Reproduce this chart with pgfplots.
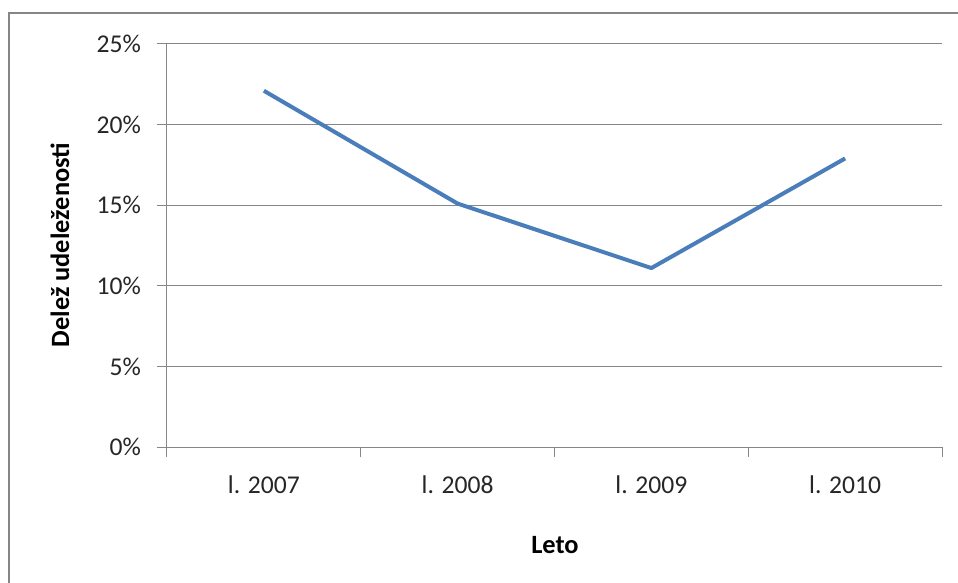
\documentclass[border=0pt]{standalone}
\usepackage{fontspec}
\setmainfont{Carlito}
\usepackage{pgfplots}
\pgfplotsset{compat=1.18}
\definecolor{linia}{HTML}{4A7EBB}
\definecolor{mreza}{HTML}{868686}
\begin{document}
\begin{tikzpicture}
% overall canvas, 0.5pt per unit, origin at the bottom-left corner of the plot area
\useasboundingbox (-83.5pt,-68pt) rectangle (395.5pt,223.5pt);
% chart frame (top and left edges)
\draw[mreza, line width=1pt] (-79pt,-70pt) -- (-79pt,217pt) -- (400pt,217pt);
\begin{axis}[
  at={(0pt,0pt)}, anchor=origin,
  scale only axis,
  width=387.5pt, height=201.5pt,
  xmin=0, xmax=4, ymin=0, ymax=25,
  axis x line*=bottom, axis y line*=left,
  axis line style={mreza, line width=0.5pt},
  xtick={0,1,2,3,4},
  xticklabels={l. 2007,l. 2008,l. 2009,l. 2010,},
  x tick label as interval,
  ytick={0,5,10,15,20,25},
  yticklabels={0\%,5\%,10\%,15\%,20\%,25\%},
  ymajorgrids,
  major grid style={mreza, line width=0.5pt},
  tick style={mreza, line width=0.5pt},
  tick align=outside,
  major tick length=5pt,
  tick label style={font=\fontsize{12.8}{15}\selectfont, black!85},
  yticklabel style={xshift=-4.5pt},
  xticklabel style={yshift=-6pt},
  xlabel={Leto},
  ylabel={Delež udeleženosti},
  label style={font=\fontsize{13.2}{15}\selectfont\bfseries, black},
  xlabel style={at={(axis description cs:0.5006,-0.243)}, anchor=center},
  ylabel style={at={(axis description cs:-0.138,0.501)}, anchor=center, rotate=0},
  clip=false,
]
\addplot[linia, line width=2pt, line join=round] coordinates {
  (0.5,22.1) (1.5,15.1) (2.5,11.1) (3.5,17.9)
};
\end{axis}
\end{tikzpicture}
\end{document}
